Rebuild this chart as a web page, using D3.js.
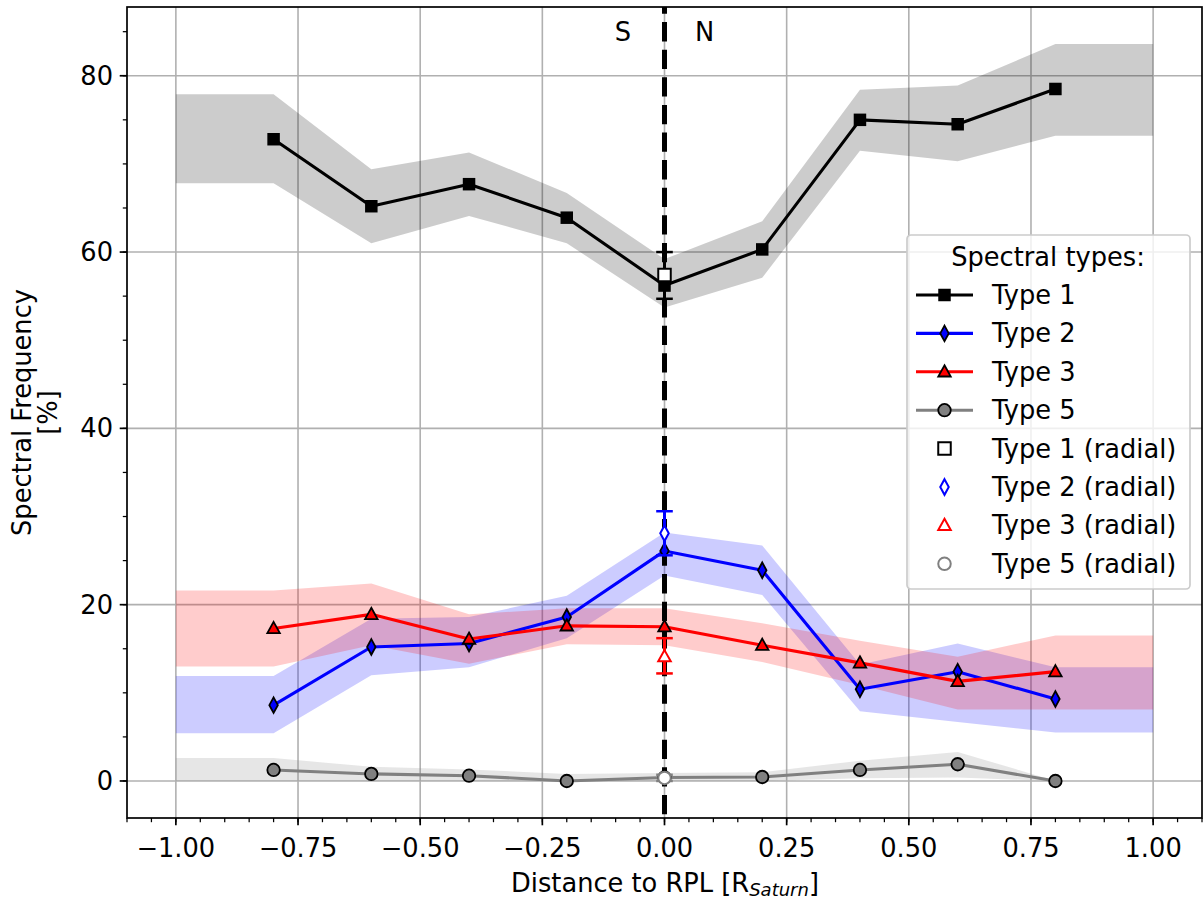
<!DOCTYPE html>
<html>
<head>
<meta charset="utf-8">
<script src="https://cdn.jsdelivr.net/npm/d3@7"></script>
<style>
  body { margin: 0; background: #fff; }
  svg { display: block; font-family: 'DejaVu Sans', sans-serif; }
</style>
</head>
<body>
<div id="root"></div>
<script>
// x positions of the points and of the shaded bands (bands extend to +-1)
const distances = [-0.8, -0.6, -0.4, -0.2, 0, 0.2, 0.4, 0.6, 0.8];
const bandDistances = [-1, -0.8, -0.6, -0.4, -0.2, 0, 0.2, 0.4, 0.6, 0.8, 1];

const type1 = [72.8, 65.2, 67.7, 63.9, 56.2, 60.3, 75.0, 74.5, 78.5];
const type1Upper = [77.9, 77.9, 69.4, 71.3, 66.7, 59.2, 63.5, 78.4, 78.9, 83.6, 83.6];
const type1Lower = [67.8, 67.8, 61.0, 64.1, 61.0, 53.7, 57.1, 71.5, 70.3, 73.2, 73.2];

const type2 = [8.6, 15.2, 15.6, 18.6, 26.1, 23.9, 10.4, 12.4, 9.3];
const type2Upper = [11.9, 11.9, 18.4, 18.6, 21.0, 28.2, 26.7, 13.2, 15.6, 12.9, 12.9];
const type2Lower = [5.4, 5.4, 12.0, 12.9, 16.2, 23.3, 21.1, 7.9, 6.7, 5.5, 5.5];

const type3 = [17.3, 18.9, 16.1, 17.6, 17.5, 15.4, 13.4, 11.3, 12.4];
const type3Upper = [21.6, 21.6, 22.4, 18.9, 19.6, 19.6, 17.9, 15.9, 14.1, 16.5, 16.5];
const type3Lower = [13.0, 13.0, 15.4, 13.3, 15.5, 15.4, 13.5, 10.9, 8.1, 8.1, 8.1];

const type5 = [1.25, 0.8, 0.6, 0.0, 0.4, 0.45, 1.25, 1.9, 0.0];
const type5Upper = [2.6, 2.6, 1.6, 1.3, 0.8, 0.9, 1.0, 2.3, 3.3, 0, 0];
const type5Lower = [0, 0, 0, 0, 0, 0, 0, 0.3, 0.4, 0, 0];

// radial values at the RPL (distance 0) with error bars
const radialNames = ['Type 1 (radial)', 'Type 2 (radial)', 'Type 3 (radial)', 'Type 5 (radial)'];
const radialValues = [57.4, 28.1, 14.1, 0.35];
const radialErrLow = [54.7, 25.6, 12.2, 0.0];
const radialErrHigh = [60.0, 30.6, 16.2, 0.7];

const xTicks = [-1, -0.75, -0.5, -0.25, 0, 0.25, 0.5, 0.75, 1];
const yTicks = [0, 20, 40, 60, 80];
const sideLabels = [{ text: 'S', x: -0.085 }, { text: 'N', x: 0.082 }];

const seriesNames = ['Type 1', 'Type 2', 'Type 3', 'Type 5'];
const seriesValues = [type1, type2, type3, type5];
const seriesUpper = [type1Upper, type2Upper, type3Upper, type5Upper];
const seriesLower = [type1Lower, type2Lower, type3Lower, type5Lower];
const colors = ['#000000', '#0000ff', '#ff0000', '#808080'];
const markers = ['square', 'diamond', 'triangle', 'circle'];

const svgWidth = 1203;
const svgHeight = 901;
const fontSize = 25.7;
const plot = { left: 127, right: 1202, top: 7, bottom: 818 };

const xScale = d3.scaleLinear().domain([-1.1, 1.1]).range([plot.left, plot.right]);
const yScale = d3.scaleLinear().domain([-4.2, 87.8]).range([plot.bottom, plot.top]);

const svg = d3.select('#root').append('svg')
  .attr('width', svgWidth)
  .attr('height', svgHeight);

svg.append('defs').append('clipPath')
  .attr('id', 'clip')
  .append('rect')
  .attr('x', plot.left)
  .attr('y', plot.top)
  .attr('width', plot.right - plot.left)
  .attr('height', plot.bottom - plot.top);

// grid
const grid = svg.append('g').attr('stroke', '#b0b0b0').attr('stroke-width', 1.6);
grid.selectAll('.gx').data(xTicks).enter().append('line')
  .attr('x1', d => xScale(d)).attr('x2', d => xScale(d))
  .attr('y1', plot.top).attr('y2', plot.bottom);
grid.selectAll('.gy').data(yTicks).enter().append('line')
  .attr('x1', plot.left).attr('x2', plot.right)
  .attr('y1', d => yScale(d)).attr('y2', d => yScale(d));

const chart = svg.append('g').attr('clip-path', 'url(#clip)');

// shaded bands
const area = d3.area()
  .x(d => xScale(d.x))
  .y0(d => yScale(d.lo))
  .y1(d => yScale(d.hi));

seriesNames.forEach((name, i) => {
  const band = bandDistances.map((x, j) => ({ x, lo: seriesLower[i][j], hi: seriesUpper[i][j] }));
  chart.append('path')
    .datum(band)
    .attr('d', area)
    .attr('fill', colors[i])
    .attr('fill-opacity', 0.2);
});

// RPL dashed line
chart.append('line')
  .attr('x1', xScale(0)).attr('x2', xScale(0))
  .attr('y1', plot.top).attr('y2', plot.bottom)
  .attr('stroke', '#000')
  .attr('stroke-width', 5)
  .attr('stroke-dasharray', '19.3,8.3')
  .attr('stroke-dashoffset', 12.5);

function markerPath(kind, s) {
  const h = s / 2;
  if (kind === 'square') return `M${-h},${-h}H${h}V${h}H${-h}Z`;
  if (kind === 'diamond') return `M0,${-h * 1.25}L${h * 0.68},0L0,${h * 1.25}L${-h * 0.68},0Z`;
  if (kind === 'triangle') return `M0,${-h * 1.05}L${h},${h * 0.75}L${-h},${h * 0.75}Z`;
  return d3.arc()({ innerRadius: 0, outerRadius: h, startAngle: 0, endAngle: 2 * Math.PI });
}

const line = d3.line().x(d => xScale(d.x)).y(d => yScale(d.y));

seriesNames.forEach((name, i) => {
  const pts = distances.map((x, j) => ({ x, y: seriesValues[i][j] }));
  chart.append('path')
    .datum(pts)
    .attr('d', line)
    .attr('fill', 'none')
    .attr('stroke', colors[i])
    .attr('stroke-width', 3.1)
    .attr('stroke-linejoin', 'round');
  chart.selectAll(null)
    .data(pts)
    .enter()
    .append('path')
    .attr('transform', d => `translate(${xScale(d.x)},${yScale(d.y)})`)
    .attr('d', markerPath(markers[i], 12.5))
    .attr('fill', colors[i])
    .attr('stroke', '#000')
    .attr('stroke-width', i === 0 ? 0 : 1.8);
});

// radial points with error bars
radialNames.forEach((name, i) => {
  const cx = xScale(0);
  const g = chart.append('g').attr('stroke', colors[i]);
  g.append('line')
    .attr('x1', cx).attr('x2', cx)
    .attr('y1', yScale(radialErrLow[i])).attr('y2', yScale(radialErrHigh[i]))
    .attr('stroke-width', 3);
  [radialErrLow[i], radialErrHigh[i]].forEach(v => {
    g.append('line')
      .attr('x1', cx - 8.3).attr('x2', cx + 8.3)
      .attr('y1', yScale(v)).attr('y2', yScale(v))
      .attr('stroke-width', 2.5);
  });
  g.append('path')
    .attr('transform', `translate(${cx},${yScale(radialValues[i])})`)
    .attr('d', markerPath(markers[i], 12.5))
    .attr('fill', '#fff')
    .attr('stroke-width', 2);
});

// S / N labels
svg.selectAll('.side')
  .data(sideLabels)
  .enter()
  .append('text')
  .attr('x', d => xScale(d.x))
  .attr('y', 41)
  .attr('text-anchor', 'middle')
  .attr('font-size', fontSize)
  .text(d => d.text);

// spines
svg.append('rect')
  .attr('x', plot.left).attr('y', plot.top)
  .attr('width', plot.right - plot.left)
  .attr('height', plot.bottom - plot.top)
  .attr('fill', 'none')
  .attr('stroke', '#000')
  .attr('stroke-width', 1.7);

// axes ticks
const xMinor = d3.range(-22, 23).map(k => k * 0.05);
const yMinor = d3.range(0, 18).map(k => k * 5);

svg.append('g').selectAll('line').data(xMinor).enter().append('line')
  .attr('x1', d => xScale(d)).attr('x2', d => xScale(d))
  .attr('y1', plot.bottom).attr('y2', plot.bottom + 4.2)
  .attr('stroke', '#000').attr('stroke-width', 1.25);
svg.append('g').selectAll('line').data(yMinor).enter().append('line')
  .attr('x1', plot.left).attr('x2', plot.left - 4.2)
  .attr('y1', d => yScale(d)).attr('y2', d => yScale(d))
  .attr('stroke', '#000').attr('stroke-width', 1.25);

svg.append('g').selectAll('line').data(xTicks).enter().append('line')
  .attr('x1', d => xScale(d)).attr('x2', d => xScale(d))
  .attr('y1', plot.bottom).attr('y2', plot.bottom + 7.3)
  .attr('stroke', '#000').attr('stroke-width', 1.7);
svg.append('g').selectAll('line').data(yTicks).enter().append('line')
  .attr('x1', plot.left).attr('x2', plot.left - 7.3)
  .attr('y1', d => yScale(d)).attr('y2', d => yScale(d))
  .attr('stroke', '#000').attr('stroke-width', 1.7);

const fmtX = d3.format('.2f');
svg.append('g').selectAll('text').data(xTicks).enter().append('text')
  .attr('x', d => xScale(d))
  .attr('y', 857)
  .attr('text-anchor', 'middle')
  .attr('font-size', fontSize)
  .text(d => fmtX(d).replace('-', '\u2212'));

svg.append('g').selectAll('text').data(yTicks).enter().append('text')
  .attr('x', 113)
  .attr('y', d => yScale(d) + 9)
  .attr('text-anchor', 'end')
  .attr('font-size', fontSize)
  .text(d => d);

// axis labels
const xLabel = svg.append('text')
  .attr('x', 665)
  .attr('y', 892)
  .attr('text-anchor', 'middle')
  .attr('font-size', fontSize);
xLabel.append('tspan').text('Distance to RPL [R');
xLabel.append('tspan').attr('font-size', 18).attr('font-style', 'italic').attr('dy', 4).text('Saturn');
xLabel.append('tspan').attr('dy', -4).text(']');

const yLabel = svg.append('text')
  .attr('transform', `translate(0, ${(plot.top + plot.bottom) / 2}) rotate(-90)`)
  .attr('text-anchor', 'middle')
  .attr('font-size', fontSize);
yLabel.append('tspan').attr('x', 0).attr('y', 31).text('Spectral Frequency');
yLabel.append('tspan').attr('x', 0).attr('y', 57).text('[%]');

// legend
const legend = svg.append('g').attr('transform', 'translate(907, 235)');
legend.append('rect')
  .attr('width', 283).attr('height', 354)
  .attr('rx', 4)
  .attr('fill', '#fff').attr('fill-opacity', 0.8)
  .attr('stroke', '#cccccc').attr('stroke-width', 1.7);

legend.append('text')
  .attr('x', 141).attr('y', 31)
  .attr('text-anchor', 'middle')
  .attr('font-size', fontSize)
  .text('Spectral types:');

const legendItems = seriesNames.concat(radialNames).map((name, i) => ({ name, i }));
const rowY = i => 60 + i * 38.4;

legendItems.forEach(({ name, i }) => {
  const k = i % 4;
  const radial = i >= 4;
  const row = legend.append('g').attr('transform', `translate(0, ${rowY(i)})`);
  if (!radial) {
    row.append('line')
      .attr('x1', 9).attr('x2', 66)
      .attr('stroke', colors[k])
      .attr('stroke-width', 3.1);
  }
  row.append('path')
    .attr('transform', 'translate(37.5, 0)')
    .attr('d', markerPath(markers[k], 12.5))
    .attr('fill', radial ? '#fff' : colors[k])
    .attr('stroke', radial ? colors[k] : '#000')
    .attr('stroke-width', radial ? 2 : (k === 0 ? 0 : 1.8));
  row.append('text')
    .attr('x', 85)
    .attr('y', 9)
    .attr('font-size', fontSize)
    .text(name);
});
</script>
</body>
</html>
